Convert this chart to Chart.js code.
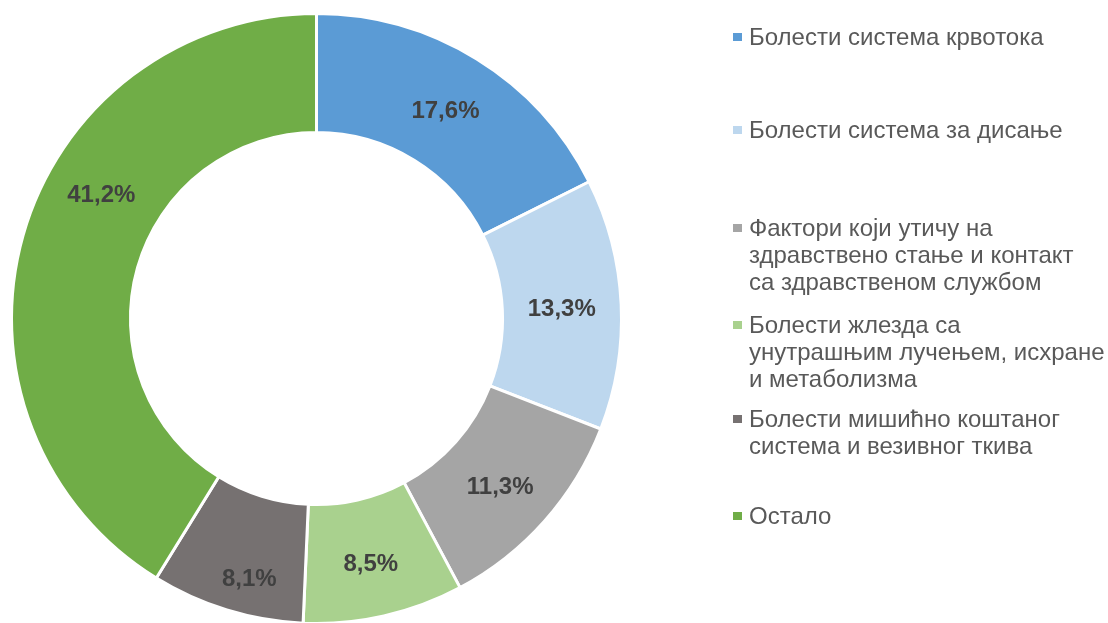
<!DOCTYPE html>
<html>
<head>
<meta charset="utf-8">
<script src="https://cdn.jsdelivr.net/npm/chart.js@4"></script>
<style>
  html, body { margin: 0; padding: 0; background: #fff; overflow: hidden; }
  #wrap { position: relative; width: 1108px; height: 626px; }
</style>
</head>
<body>
<div id="wrap"><canvas id="causesChart"></canvas></div>
<script>
// Data
const categories = [
  "Болести система крвотока",
  "Болести система за дисање",
  ["Фактори који утичу на", "здравствено стање и контакт", "са здравственом службом"],
  ["Болести жлезда са", "унутрашњим лучењем, исхране", "и метаболизма"],
  ["Болести мишићно коштаног", "система и везивног ткива"],
  "Остало",
];
const shares = [17.6, 13.3, 11.3, 8.5, 8.1, 41.2];
const sliceColors = ["#5B9BD5", "#BDD7EE", "#A5A5A5", "#A9D18E", "#767171", "#70AD47"];

// layout: legend first-line y per item, label nudges (px) where the original moved them
const legendRowY = [38, 131, 229, 326, 420, 517];
const labelNudge = [[0, 2], [0, 2], [0, 6], [0, 6], [5, 26], [21, -56]];

const percentLabels = {
  id: "percentLabels",
  afterDatasetsDraw(chart) {
    const ctx = chart.ctx;
    const meta = chart.getDatasetMeta(0);
    ctx.save();
    ctx.font = "bold 24px 'Liberation Sans', Arial, sans-serif";
    ctx.fillStyle = "#404040";
    ctx.textAlign = "center";
    ctx.textBaseline = "middle";
    meta.data.forEach(function (arc, i) {
      const p = arc.tooltipPosition();
      ctx.fillText(shares[i].toFixed(1).replace(".", ",") + "%", p.x + labelNudge[i][0], p.y + labelNudge[i][1]);
    });
    ctx.restore();
  },
};

const sideLegend = {
  id: "sideLegend",
  afterDraw(chart) {
    const ctx = chart.ctx;
    ctx.save();
    ctx.font = "24px 'Liberation Sans', Arial, sans-serif";
    ctx.textBaseline = "middle";
    ctx.textAlign = "left";
    categories.forEach(function (label, i) {
      const lines = Array.isArray(label) ? label : [label];
      const y0 = legendRowY[i];
      ctx.fillStyle = sliceColors[i];
      ctx.fillRect(733, y0 - 5, 9, 8);
      ctx.fillStyle = "#595959";
      lines.forEach(function (line, j) {
        ctx.fillText(line, 749, y0 + j * 27);
      });
    });
    ctx.restore();
  },
};

document.addEventListener("DOMContentLoaded", function () {
  const ctx = document.getElementById("causesChart").getContext("2d");
  new Chart(ctx, {
    type: "doughnut",
    data: {
      labels: categories,
      datasets: [
        {
          data: shares,
          backgroundColor: sliceColors,
          borderColor: "#ffffff",
          borderWidth: 3,
        },
      ],
    },
    options: {
      responsive: true,
      maintainAspectRatio: false,
      animation: false,
      cutout: "61%",
      layout: {
        padding: { top: 12, bottom: 1, left: 10, right: 485 },
      },
      plugins: {
        legend: { display: false },
        tooltip: { enabled: false },
      },
    },
    plugins: [percentLabels, sideLegend],
  });
});
</script>
</body>
</html>
